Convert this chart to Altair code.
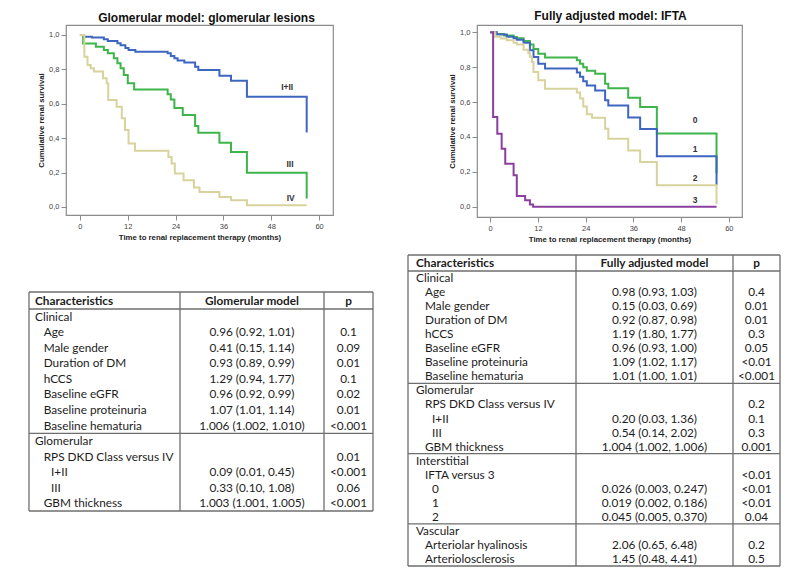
import altair as alt
import pandas as pd

# ---------------- Kaplan-Meier: glomerular model ----------------
glom_groups = ["I+II", "III", "IV"]
glom_colors = ["#3e66c0", "#3db54a", "#d8d29c"]

glom_t_12 = [0, 1, 3, 6, 7, 9.4, 10.2, 11.4, 12.2, 13.9, 22, 22.8, 23.7, 24.5, 26.2, 28.9, 29.7, 35, 37.9, 41.9, 56.9]
glom_s_12 = [1.0, 0.99, 0.985, 0.975, 0.965, 0.952, 0.94, 0.924, 0.912, 0.903, 0.893, 0.878, 0.864, 0.851, 0.84, 0.815, 0.797, 0.763, 0.734, 0.641, 0.433]

glom_t_3 = [0, 0.8, 4, 6, 7, 8.5, 9.4, 10.2, 11, 12, 13.6, 22, 22.8, 23.7, 25.8, 28.9, 29.7, 35, 37.9, 41.9, 56.9]
glom_s_3 = [1.0, 0.951, 0.932, 0.913, 0.894, 0.864, 0.835, 0.806, 0.767, 0.719, 0.683, 0.655, 0.625, 0.575, 0.535, 0.47, 0.432, 0.373, 0.32, 0.198, 0.049]

glom_t_4 = [0, 1.1, 1.9, 2.7, 3.5, 5.8, 6.7, 7.1, 9.2, 10.5, 11.3, 12.2, 13.8, 22.2, 23, 23.8, 26, 28.6, 30, 35, 37.9, 41.9, 56.9]
glom_s_4 = [1.0, 0.874, 0.826, 0.806, 0.787, 0.748, 0.719, 0.622, 0.583, 0.516, 0.447, 0.369, 0.326, 0.291, 0.252, 0.194, 0.155, 0.113, 0.087, 0.058, 0.039, 0.01, 0.01]

glom_label_t = [52.0, 52.7, 52.9]
glom_label_s = [0.70, 0.25, 0.05]

# ---------------- Kaplan-Meier: fully adjusted model (IFTA) ----------------
ifta_groups = ["0", "1", "2", "3"]
ifta_colors = ["#3db54a", "#3e66c0", "#d8d29c", "#8b3f9e"]

ifta_t_0 = [0, 1.5, 3.5, 5.9, 6.7, 8.4, 10, 10.9, 12.1, 13.8, 21.8, 22.6, 23.4, 24.3, 26.4, 28.9, 29.7, 34.7, 37.7, 41.9, 56.9]
ifta_s_0 = [1.0, 0.99, 0.982, 0.973, 0.966, 0.95, 0.93, 0.905, 0.877, 0.855, 0.84, 0.82, 0.8, 0.78, 0.762, 0.705, 0.68, 0.625, 0.572, 0.42, 0.19]

ifta_t_1 = [0, 1.7, 4.2, 5.9, 6.7, 8.4, 10, 10.9, 12.1, 13.8, 21.8, 22.6, 23.4, 24.3, 26.4, 28.9, 29.7, 34.7, 37.7, 41.9, 56.9]
ifta_s_1 = [1.0, 0.988, 0.975, 0.966, 0.958, 0.94, 0.897, 0.858, 0.82, 0.793, 0.77, 0.745, 0.72, 0.695, 0.667, 0.61, 0.58, 0.512, 0.446, 0.289, 0.123]

ifta_t_2 = [0, 1.3, 2.7, 4.2, 5.9, 6.7, 8.4, 9.6, 10, 10.5, 10.9, 12.1, 13.8, 21.8, 22.6, 23.4, 24.3, 25.6, 28.9, 29.7, 34.7, 37.7, 41.9, 56.9]
ifta_s_2 = [1.0, 0.975, 0.965, 0.955, 0.94, 0.93, 0.9, 0.88, 0.86, 0.83, 0.772, 0.725, 0.677, 0.655, 0.62, 0.575, 0.53, 0.51, 0.447, 0.39, 0.323, 0.256, 0.123, 0.015]

ifta_t_3 = [0, 0.75, 1.8, 2.9, 3.8, 5.9, 6.7, 8.8, 10, 10.8, 56.9]
ifta_s_3 = [1.0, 0.515, 0.419, 0.333, 0.247, 0.18, 0.062, 0.037, 0.012, 0.0, 0.0]

ifta_label_t = [51.5, 51.5, 51.5, 51.5]
ifta_label_s = [0.50, 0.33, 0.165, 0.04]

x_ticks = [0, 12, 24, 36, 48, 60]
y_ticks = [0.0, 0.2, 0.4, 0.6, 0.8, 1.0]

# ---------------- Table 1: glomerular model ----------------
t1_header = ["Characteristics", "Glomerular model", "p"]
t1_labels = ["Clinical", "Age", "Male gender", "Duration of DM", "hCCS", "Baseline eGFR",
             "Baseline proteinuria", "Baseline hematuria", "Glomerular", "RPS DKD Class versus IV",
             "I+II", "III", "GBM thickness"]
t1_levels = [0, 1, 1, 1, 1, 1, 1, 1, 0, 1, 2, 2, 1]
t1_est = ["", "0.96 (0.92, 1.01)", "0.41 (0.15, 1.14)", "0.93 (0.89, 0.99)", "1.29 (0.94, 1.77)",
          "0.96 (0.92, 0.99)", "1.07 (1.01, 1.14)", "1.006 (1.002, 1.010)", "", "",
          "0.09 (0.01, 0.45)", "0.33 (0.10, 1.08)", "1.003 (1.001, 1.005)"]
t1_p = ["", "0.1", "0.09", "0.01", "0.1", "0.02", "0.01", "<0.001", "", "0.01", "<0.001", "0.06", "<0.001"]
t1_breaks = [8]

# ---------------- Table 2: fully adjusted model ----------------
t2_header = ["Characteristics", "Fully adjusted model", "p"]
t2_labels = ["Clinical", "Age", "Male gender", "Duration of DM", "hCCS", "Baseline eGFR",
             "Baseline proteinuria", "Baseline hematuria", "Glomerular", "RPS DKD Class versus IV",
             "I+II", "III", "GBM thickness", "Interstitial", "IFTA versus 3", "0", "1", "2",
             "Vascular", "Arteriolar hyalinosis", "Arteriolosclerosis"]
t2_levels = [0, 1, 1, 1, 1, 1, 1, 1, 0, 1, 2, 2, 1, 0, 1, 2, 2, 2, 0, 1, 1]
t2_est = ["", "0.98 (0.93, 1.03)", "0.15 (0.03, 0.69)", "0.92 (0.87, 0.98)", "1.19 (1.80, 1.77)",
          "0.96 (0.93, 1.00)", "1.09 (1.02, 1.17)", "1.01 (1.00, 1.01)", "", "",
          "0.20 (0.03, 1.36)", "0.54 (0.14, 2.02)", "1.004 (1.002, 1.006)", "", "",
          "0.026 (0.003, 0.247)", "0.019 (0.002, 0.186)", "0.045 (0.005, 0.370)", "",
          "2.06 (0.65, 6.48)", "1.45 (0.48, 4.41)"]
t2_p = ["", "0.4", "0.01", "0.01", "0.3", "0.05", "<0.01", "<0.001", "", "0.2", "0.1", "0.3", "0.001",
        "", "<0.01", "<0.01", "<0.01", "0.04", "", "0.2", "0.5"]
t2_breaks = [8, 13, 18]

KM_FONT = "Liberation Sans"
TAB_FONT = "Lato"
TXT = "#1c1c1c"
GRID = "#6e6e6e"


def km_chart(groups, colors, ts, ss, lab_t, lab_s, title, xdom, ydom, w, h, title_dx, title_off):
    rows = []
    for g, tt, sv in zip(groups, ts, ss):
        for i, (a, b) in enumerate(zip(tt, sv)):
            rows.append({"g": g, "t": a, "s": b, "i": i})
    df = pd.DataFrame(rows)
    xs = alt.Scale(domain=xdom, nice=False, zero=False)
    ys = alt.Scale(domain=ydom, nice=False, zero=False)
    lines = alt.Chart(df).mark_line(interpolate="step-after", strokeWidth=2).encode(
        x=alt.X("t:Q", scale=xs,
                axis=alt.Axis(values=x_ticks, tickCount=12,
                              title="Time to renal replacement therapy (months)")),
        y=alt.Y("s:Q", scale=ys,
                axis=alt.Axis(values=y_ticks, tickCount=12, title="Cumulative renal survival",
                              labelExpr="replace(format(datum.value, '.1f'), '.', ',')")),
        color=alt.Color("g:N", scale=alt.Scale(domain=groups, range=colors), legend=None),
        order="i:Q",
    )
    ldf = pd.DataFrame({"g": groups, "t": lab_t, "s": lab_s})
    labels = alt.Chart(ldf).mark_text(font=KM_FONT, fontSize=8.5, fontWeight="bold",
                                      color="#333333").encode(
        x=alt.X("t:Q", scale=xs), y=alt.Y("s:Q", scale=ys), text="g:N")
    return alt.layer(lines, labels).properties(
        width=w, height=h,
        title=alt.TitleParams(title, font=KM_FONT, fontSize=12, fontWeight="bold", color="#111111",
                              anchor="middle", frame="group", offset=title_off, dx=title_dx),
    )


def table_chart(header, labels, levels, est, pv, breaks, W, H, hdr_h, cols, indents, centers, shift, fs):
    n = len(labels)
    row_h = (H - hdr_h) / n
    body = pd.DataFrame({
        "x": [indents[l] for l in levels],
        "y": [hdr_h + (i + 0.5) * row_h for i in range(n)],
        "label": labels, "est": est, "p": pv,
        "cx": [centers[0]] * n, "px": [centers[1]] * n,
    })
    head = pd.DataFrame({"x": [indents[0], centers[0], centers[1]],
                         "y": [hdr_h / 2] * 3, "text": header, "a": ["l", "c", "c"]})
    hl = pd.DataFrame({"y": [0, hdr_h] + [hdr_h + b * row_h for b in breaks] + [H],
                       "x": [0] * (3 + len(breaks)), "x2": [W] * (3 + len(breaks))})
    vl = pd.DataFrame({"x": [0, cols[0], cols[1], W], "y": [0] * 4, "y2": [H] * 4})
    xs = alt.Scale(domain=[0, W], range=[-shift, W - shift])
    ys = alt.Scale(domain=[0, H], range=[0, H])
    X = lambda f: alt.X(f, type="quantitative", scale=xs, axis=None)
    Y = lambda f: alt.Y(f, type="quantitative", scale=ys, axis=None)
    tkw = dict(font=TAB_FONT, fontSize=fs, color=TXT, baseline="middle")
    layers = [
        alt.Chart(hl).mark_rule(color=GRID, strokeWidth=1.3).encode(x=X("x"), x2="x2", y=Y("y")),
        alt.Chart(vl).mark_rule(color=GRID, strokeWidth=1.3).encode(x=X("x"), y=Y("y"), y2="y2"),
        alt.Chart(head).transform_filter("datum.a == 'l'").mark_text(align="left", fontWeight="bold", **tkw)
        .encode(x=X("x"), y=Y("y"), text="text:N"),
        alt.Chart(head).transform_filter("datum.a == 'c'").mark_text(align="center", fontWeight="bold", **tkw)
        .encode(x=X("x"), y=Y("y"), text="text:N"),
        alt.Chart(body).mark_text(align="left", **tkw).encode(x=X("x"), y=Y("y"), text="label:N"),
        alt.Chart(body).mark_text(align="center", **tkw).encode(x=X("cx"), y=Y("y"), text="est:N"),
        alt.Chart(body).mark_text(align="center", **tkw).encode(x=X("px"), y=Y("y"), text="p:N"),
    ]
    return alt.layer(*layers).properties(
        width=W - shift, height=H, view=alt.ViewBackground(stroke="transparent"))


km1 = km_chart(glom_groups, glom_colors, [glom_t_12, glom_t_3, glom_t_4], [glom_s_12, glom_s_3, glom_s_4],
               glom_label_t, glom_label_s, "Glomerular model: glomerular lesions",
               [-3.5, 63.5], [-0.047, 1.058], 267, 190, 7, 0)
km2 = km_chart(ifta_groups, ifta_colors, [ifta_t_0, ifta_t_1, ifta_t_2, ifta_t_3],
               [ifta_s_0, ifta_s_1, ifta_s_2, ifta_s_3],
               ifta_label_t, ifta_label_s, "Fully adjusted model: IFTA",
               [-3.3, 63.3], [-0.059, 1.042], 265, 192, 1, 2)

tab1 = table_chart(t1_header, t1_labels, t1_levels, t1_est, t1_p, t1_breaks,
                   W=344, H=219, hdr_h=17, cols=[151, 295], indents=[6, 14.7, 22],
                   centers=[223, 319.5], shift=37, fs=11.8)
tab2 = table_chart(t2_header, t2_labels, t2_levels, t2_est, t2_p, t2_breaks,
                   W=372, H=311, hdr_h=16, cols=[168, 325], indents=[8, 17, 24],
                   centers=[246.5, 348.5], shift=69, fs=11.8)

left = alt.vconcat(km1, tab1, spacing=48)
right = alt.vconcat(km2, tab2, spacing=9)

chart = alt.hconcat(left, right, spacing=31).resolve_scale(color="independent").properties(
    padding={"left": 19, "top": 1, "right": 2, "bottom": 0}
).configure_view(
    stroke="#8c8c8c", strokeWidth=1.2
).configure_axis(
    grid=False, domain=False, tickColor="#8c8c8c", tickSize=5, tickWidth=1,
    labelFont=KM_FONT, labelFontSize=7.5, labelColor="#444444", labelPadding=2,
    labelOverlap=False, labelFlush=False,
    titleFont=KM_FONT, titleFontSize=7.8, titleFontWeight="bold", titleColor="#222222",
    titlePadding=3.5,
)

chart.save("out.html", embed_options={"renderer": "svg", "actions": False})
